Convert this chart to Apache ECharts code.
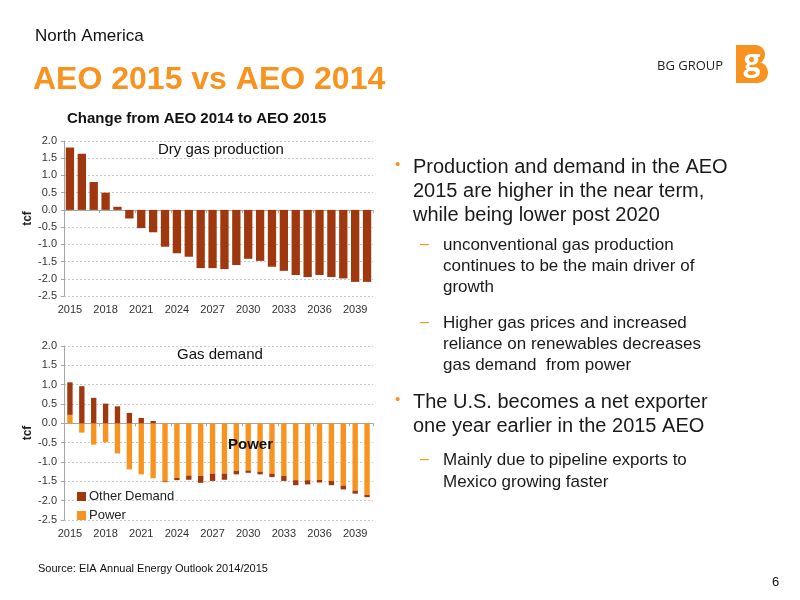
<!DOCTYPE html>
<html>
<head>
<meta charset="utf-8">
<script src="https://cdn.jsdelivr.net/npm/echarts@6/dist/echarts.min.js"></script>
<style>
  html, body { margin: 0; padding: 0; background: #fff; }
  #main { width: 800px; height: 600px; }
</style>
</head>
<body>
<div id="main"></div>
<script>
// years on both charts
const years = ['2015', '2016', '2017', '2018', '2019', '2020', '2021', '2022', '2023', '2024', '2025', '2026', '2027',
  '2028', '2029', '2030', '2031', '2032', '2033', '2034', '2035', '2036', '2037', '2038', '2039', '2040']

// change in dry gas production, tcf
const dryGas = [1.81, 1.63, 0.81, 0.50, 0.09, -0.25, -0.53, -0.65, -1.07, -1.26, -1.36, -1.69, -1.69,
  -1.72, -1.60, -1.42, -1.48, -1.65, -1.77, -1.89, -1.95, -1.89, -1.95, -1.99, -2.09, -2.09]

// change in gas demand, split in power and other demand, tcf
const power = [0.22, -0.24, -0.55, -0.49, -0.78, -1.19, -1.32, -1.42, -1.50, -1.41, -1.35, -1.36, -1.30,
  -1.30, -1.23, -1.22, -1.25, -1.30, -1.36, -1.47, -1.47, -1.46, -1.49, -1.61, -1.74, -1.85]
const otherDemand = [0.84, 0.96, 0.66, 0.51, 0.44, 0.27, 0.14, 0.06, -0.02, -0.06, -0.11, -0.18, -0.19,
  -0.16, -0.09, -0.06, -0.07, -0.09, -0.13, -0.13, -0.11, -0.07, -0.11, -0.10, -0.08, -0.06]

const FONT = '"Liberation Sans", Arial, sans-serif'
const ORANGE = '#f7931e'
const DARK = '#a0380f'

function makeYAxis(gridIndex) {
  return {
    type: 'value',
    gridIndex: gridIndex,
    min: -2.5,
    max: 2.0,
    interval: 0.5,
    name: 'tcf',
    nameLocation: 'middle',
    nameRotate: 90,
    nameGap: 30,
    nameTextStyle: { fontFamily: FONT, fontWeight: 'bold', fontSize: 12, color: '#222' },
    axisLine: { show: true, lineStyle: { color: '#a6a6a6' } },
    axisTick: { show: true, length: 3, lineStyle: { color: '#a6a6a6' } },
    axisLabel: {
      fontFamily: FONT, fontSize: 11, color: '#333', margin: 7,
      formatter: v => v.toFixed(1)
    },
    splitLine: { show: true, lineStyle: { color: '#c8c8c8', type: [2, 2] } }
  }
}

function makeXAxes(gridIndex) {
  return [{
    // labels at the bottom of the plot
    type: 'category',
    gridIndex: gridIndex,
    data: years,
    position: 'bottom',
    axisLine: { show: false, onZero: false },
    axisTick: { show: false },
    axisLabel: { fontFamily: FONT, fontSize: 11, color: '#333', interval: 2, margin: 8 }
  }, {
    // axis line crossing at zero
    type: 'category',
    gridIndex: gridIndex,
    data: years,
    position: 'bottom',
    axisLine: { show: true, onZero: true, lineStyle: { color: '#a6a6a6' } },
    axisTick: { show: true, length: 3, lineStyle: { color: '#a6a6a6' } },
    axisLabel: { show: false }
  }]
}

const chart = echarts.init(document.getElementById('main'))

const bullets = [
  { t: 'Production and demand in the AEO', x: 413, y: 157, big: true, mark: '•' },
  { t: '2015 are higher in the near term,', x: 413, y: 181, big: true },
  { t: 'while being lower post 2020', x: 413, y: 205, big: true },
  { t: 'unconventional gas production', x: 443, y: 237, mark: '–' },
  { t: 'continues to be the main driver of', x: 443, y: 258 },
  { t: 'growth', x: 443, y: 279 },
  { t: 'Higher gas prices and increased', x: 443, y: 315, mark: '–' },
  { t: 'reliance on renewables decreases', x: 443, y: 336 },
  { t: 'gas demand  from power', x: 443, y: 357 },
  { t: 'The U.S. becomes a net exporter', x: 413, y: 392, big: true, mark: '•' },
  { t: 'one year earlier in the 2015 AEO', x: 413, y: 416, big: true },
  { t: 'Mainly due to pipeline exports to', x: 443, y: 452, mark: '–' },
  { t: 'Mexico growing faster', x: 443, y: 474 }
]

const graphics = []
bullets.forEach(b => {
  graphics.push({
    type: 'text', left: b.x, top: b.y, silent: true,
    style: {
      text: b.t, fill: '#1a1a1a', font: (b.big ? '20px ' : '17px ') + FONT,
      verticalAlign: 'middle'
    }
  })
  if (b.mark) {
    graphics.push({
      type: 'text', left: b.big ? 395 : 420, top: b.y, silent: true,
      style: {
        text: b.mark, fill: ORANGE, font: (b.big ? '15px ' : '16px ') + FONT,
        verticalAlign: 'middle'
      }
    })
  }
})

graphics.push(
  { type: 'text', left: 35, top: 28, silent: true,
    style: { text: 'North America', fill: '#111', font: '17px ' + FONT } },
  { type: 'text', left: 33, top: 64, silent: true,
    style: { text: 'AEO 2015 vs AEO 2014', fill: ORANGE, font: 'bold 32px ' + FONT } },
  { type: 'text', left: 67, top: 111, silent: true,
    style: { text: 'Change from AEO 2014 to AEO 2015', fill: '#111', font: 'bold 15px ' + FONT } },
  { type: 'text', left: 158, top: 142, silent: true, z: 100,
    style: { text: 'Dry gas production', fill: '#111', font: '15px ' + FONT } },
  { type: 'text', left: 177, top: 347, silent: true, z: 100,
    style: { text: 'Gas demand', fill: '#111', font: '15px ' + FONT } },
  { type: 'text', left: 228, top: 437, silent: true, z: 100,
    style: { text: 'Power', fill: '#111', font: 'bold 15px ' + FONT } },
  { type: 'text', left: 38, top: 563, silent: true,
    style: { text: 'Source: EIA Annual Energy Outlook 2014/2015', fill: '#111', font: '11px ' + FONT } },
  { type: 'text', left: 772, top: 576, silent: true,
    style: { text: '6', fill: '#111', font: '13px ' + FONT } },
  // BG GROUP logo
  { type: 'text', left: 657, top: 60, silent: true,
    style: { text: 'BG GROUP', fill: '#222', font: '13px "Open Sans", ' + FONT } },
  { type: 'rect', left: 736, top: 45, silent: true,
    shape: { width: 20, height: 38 }, style: { fill: ORANGE } },
  { type: 'rect', left: 745, top: 45, silent: true,
    shape: { width: 20, height: 19, r: [0, 9, 9, 0] }, style: { fill: ORANGE } },
  { type: 'rect', left: 745, top: 62, silent: true,
    shape: { width: 23, height: 21, r: [0, 10, 10, 0] }, style: { fill: ORANGE } },
  { type: 'text', x: 752, y: 62, silent: true, z: 101,
    style: { text: 'g', fill: '#fff', font: 'bold 30px "Open Sans", ' + FONT,
      align: 'center', verticalAlign: 'middle' } }
)

const option = {
  backgroundColor: '#fff',
  animation: false,
  textStyle: { fontFamily: FONT },
  grid: [
    { left: 64, top: 141, width: 309, height: 155 },
    { left: 64, top: 346, width: 309, height: 174 }
  ],
  xAxis: [].concat(makeXAxes(0), makeXAxes(1)),
  yAxis: [makeYAxis(0), makeYAxis(1)],
  legend: {
    data: ['Other Demand', 'Power'],
    orient: 'vertical',
    left: 72,
    top: 485,
    itemWidth: 9,
    itemHeight: 9,
    itemGap: 6,
    icon: 'rect',
    textStyle: { fontFamily: FONT, fontSize: 13, color: '#222', padding: [0, 0, 0, -2] }
  },
  series: [{
    name: 'Dry gas production',
    type: 'bar',
    xAxisIndex: 0,
    yAxisIndex: 0,
    data: dryGas,
    barCategoryGap: '30%',
    itemStyle: { color: DARK }
  }, {
    name: 'Power',
    type: 'bar',
    xAxisIndex: 2,
    yAxisIndex: 1,
    stack: 'demand',
    data: power,
    barCategoryGap: '55%',
    itemStyle: { color: ORANGE }
  }, {
    name: 'Other Demand',
    type: 'bar',
    xAxisIndex: 2,
    yAxisIndex: 1,
    stack: 'demand',
    data: otherDemand,
    barCategoryGap: '55%',
    itemStyle: { color: DARK }
  }],
  graphic: graphics
}

chart.setOption(option)
</script>
</body>
</html>
